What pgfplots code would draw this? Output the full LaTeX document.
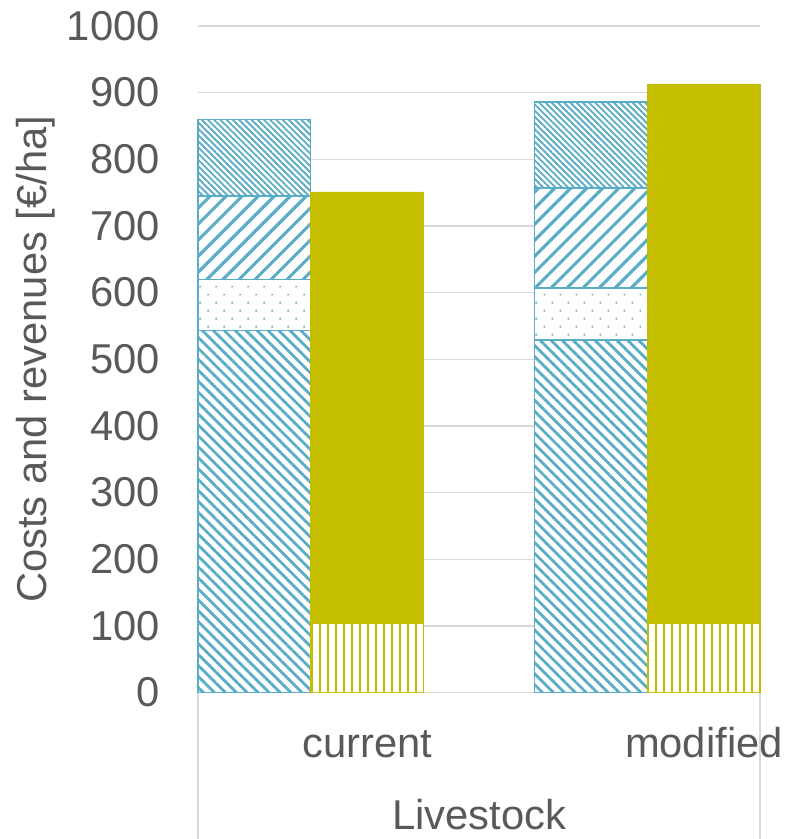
\documentclass[border=0pt]{standalone}
\usepackage{pgfplots}
\pgfplotsset{compat=1.18}
\usetikzlibrary{patterns.meta}
\usepackage{fontspec}
\setmainfont{Liberation Sans}

\definecolor{costblue}{RGB}{91,173,199}
\definecolor{revyellow}{RGB}{196,189,0}
\definecolor{gridgray}{RGB}{217,217,217}
\definecolor{txtgray}{RGB}{89,89,89}
\newcommand\chartfont{\fontsize{31.3pt}{37pt}\selectfont}

% shared geometry of the two overlaid axes (costs, revenues)
\pgfplotsset{
  base/.style={
    at={(0,0)}, anchor=south west,
    scale only axis, width=421.5pt, height=499.9pt,
    xmin=0, xmax=562, ymin=0, ymax=1000,
    ybar stacked, bar width=112.7,
    clip=false,
  },
  costseg/.style={draw=costblue, line width=1.1pt, fill=white,
    postaction={pattern color=costblue, pattern={#1}}},
}

\begin{document}
\begin{tikzpicture}
\useasboundingbox (-148.5pt,-109.875pt) rectangle (440.25pt,519.375pt);

% cost stacks
\begin{axis}[base,
  ytick={0,100,...,1000},
  ymajorgrids, major grid style={gridgray, line width=1pt},
  xtick={169.1,505.9}, xticklabels={current,modified},
  axis line style={draw=none}, major tick length=0pt,
  tick label style={font=\chartfont, text=txtgray},
  /pgf/number format/assume math mode=true,
  /pgf/number format/1000 sep={},
  yticklabel style={anchor=east, inner sep=0pt, xshift=-28.5pt},
  xticklabel style={anchor=base, inner sep=0pt, yshift=-48.4pt},
  xlabel={Livestock}, ylabel={Costs and revenues [€/ha]},
  every axis x label/.style={at={(rel axis cs:0.5,0)}, anchor=base,
    yshift=-103.1pt, font=\chartfont, text=txtgray},
  every axis y label/.style={at={(rel axis cs:-0.2883,0.5)}, anchor=center,
    rotate=90, font=\chartfont, text=txtgray},
]
\addplot[costseg={Lines[angle=-45,distance=5.8pt,line width=2.1pt]}]
  coordinates {(56.4,543) (393.1,529)};
\addplot[costseg={Dots[angle=45,distance=8.49pt,radius=0.85pt]}]
  coordinates {(56.4,77) (393.1,78)};
\addplot[costseg={Lines[angle=45,distance=8.5pt,line width=2.3pt]}]
  coordinates {(56.4,125) (393.1,150)};
\addplot[costseg={Lines[angle=-45,distance=3.3pt,line width=1.4pt]}]
  coordinates {(56.4,115) (393.1,129)};
% separators of the category axis
\draw[gridgray, line width=1pt] (rel axis cs:0,0) -- ++(0,-115pt);
\draw[gridgray, line width=1pt] (rel axis cs:1,0) -- ++(0,-115pt);
\end{axis}

% revenue stacks
\begin{axis}[base, hide axis]
\addplot[draw=revyellow, line width=0.6pt, fill=white,
  postaction={pattern color=revyellow,
    pattern={Lines[angle=90,distance=6pt,line width=1.5pt]}}]
  coordinates {(169.1,104) (505.9,104)};
\addplot[draw=revyellow, line width=0.6pt, fill=revyellow]
  coordinates {(169.1,647) (505.9,809)};
\end{axis}
\end{tikzpicture}
\end{document}
